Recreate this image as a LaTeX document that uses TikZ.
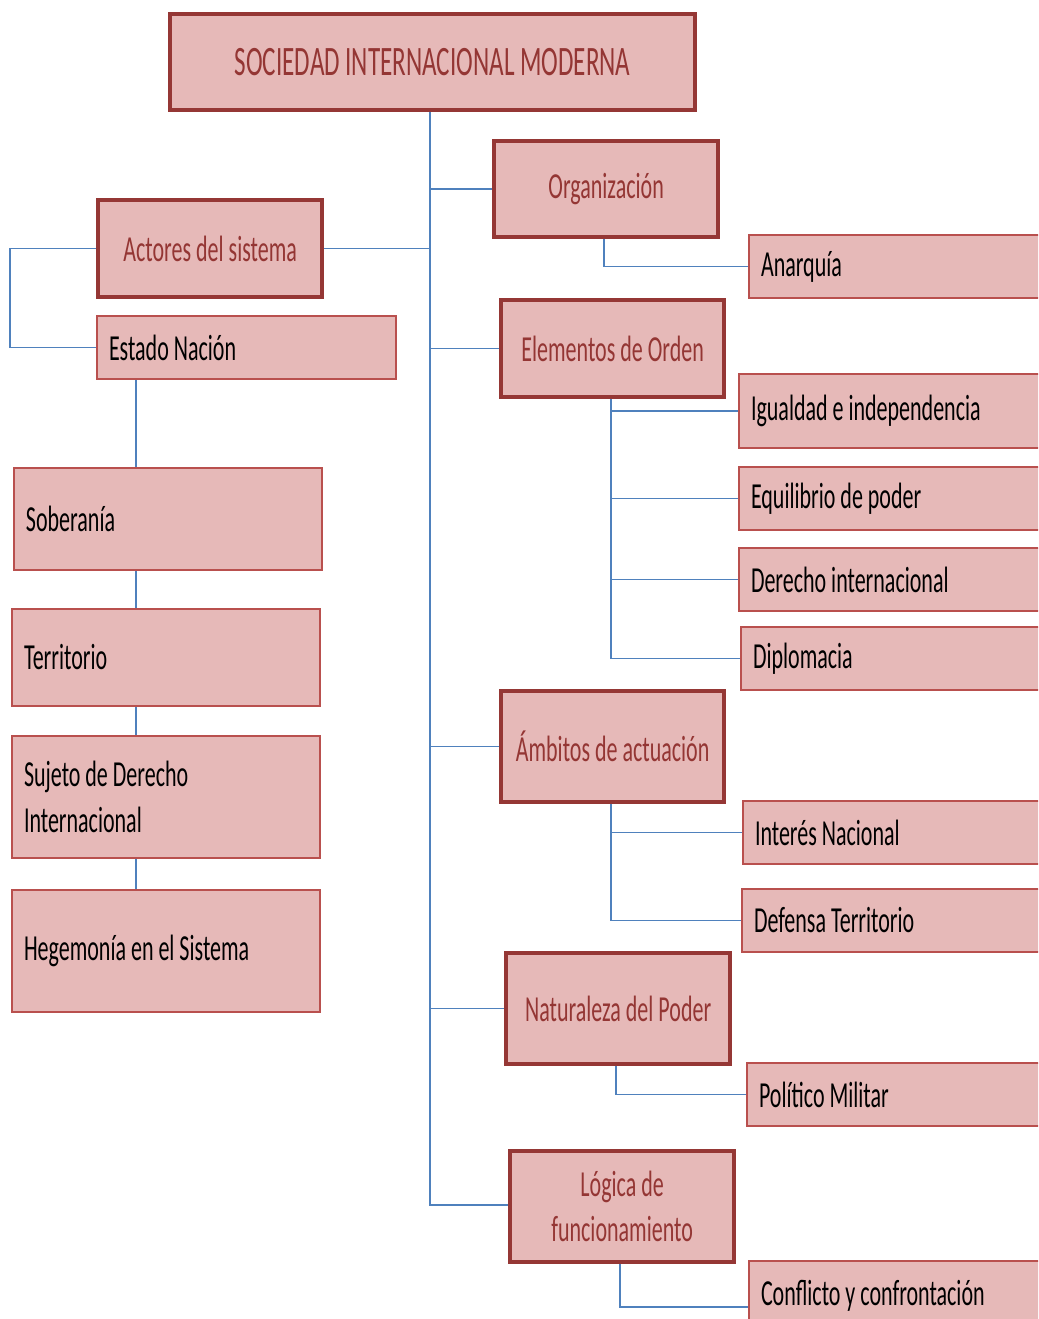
\documentclass[tikz,border=0pt]{standalone}
\usepackage{fontspec}
\setmainfont{Carlito}[FakeStretch=0.6]
\definecolor{boxfill}{HTML}{E6B9B8}
\definecolor{headline}{HTML}{953735}
\definecolor{leafline}{HTML}{B9504E}
\definecolor{headtext}{HTML}{943634}
\definecolor{wire}{HTML}{4F81BD}
\tikzset{
  head/.style={draw=headline, fill=boxfill, line width=3.2pt, text=headtext,
    font=\fontsize{27.5}{34}\selectfont, align=center, inner sep=0pt},
  leaf/.style={draw=leafline, fill=boxfill, line width=1.5pt, text=black,
    font=\fontsize{27.5}{34}\selectfont, align=flush left, inner sep=0pt},
  link/.style={draw=wire, line width=1.1pt}
}
% head box: name, x1, y1, x2, y2, text
\newcommand\headbox[6]{%
  \pgfmathsetlengthmacro\bw{(#4-#2)*0.75pt}%
  \pgfmathsetlengthmacro\bh{(#5-#3)*0.75pt}%
  \node[head, anchor=north west, minimum width=\bw, minimum height=\bh] (#1) at (#2,#3) {#6};}
% leaf box: text flush left
\newcommand\leafbox[6]{%
  \pgfmathsetlengthmacro\bw{(#4-#2)*0.75pt}%
  \pgfmathsetlengthmacro\bh{(#5-#3)*0.75pt}%
  \pgfmathsetlengthmacro\tw{(#4-#2-24)*0.75pt}%
  \node[leaf, anchor=north west, minimum width=\bw, minimum height=\bh, text width=\tw] (#1) at (#2,#3) {#6};}
\begin{document}
\begin{tikzpicture}[x=0.75pt,y=-0.75pt]
\useasboundingbox (0,0) rectangle (1038,1319);
\clip (0,0) rectangle (1038,1319);

% title
\headbox{top}{168}{12}{693}{108}{\fontsize{31.4}{40}\selectfont SOCIEDAD INTERNACIONAL MODERNA}
\coordinate (trunkend) at (430,1205);

% left column
\headbox{actores}{96}{198}{320}{295}{Actores del sistema}
\leafbox{estado}{96}{315}{395}{378}{Estado Nación}
\leafbox{soberania}{13}{467}{321}{569}{Soberanía}
\leafbox{territorio}{11}{608}{319}{705}{Territorio}
\leafbox{sujeto}{11}{735}{319}{857}{Sujeto de Derecho\\Internacional}
\leafbox{hegemonia}{11}{889}{319}{1011}{Hegemonía en el Sistema}

% right column heads
\headbox{organizacion}{492}{139}{716}{235}{Organización}
\headbox{elementos}{499}{298}{722}{395}{Elementos de Orden}
\headbox{ambitos}{499}{689}{722}{800}{Ámbitos de actuación}
\headbox{naturaleza}{504}{951}{728}{1062}{Naturaleza del Poder}
\headbox{logica}{508}{1149}{732}{1260}{Lógica de\\funcionamiento}

% right column leaves
\leafbox{anarquia}{748}{234}{1048}{297}{Anarquía}
\leafbox{igualdad}{738}{373}{1048}{447}{Igualdad e independencia}
\leafbox{equilibrio}{738}{466}{1048}{529}{Equilibrio de poder}
\leafbox{derecho}{738}{547}{1048}{610}{Derecho internacional}
\leafbox{diplomacia}{740}{626}{1048}{689}{Diplomacia}
\leafbox{interes}{742}{800}{1048}{863}{Interés Nacional}
\leafbox{defensa}{741}{888}{1048}{951}{Defensa Territorio}
\leafbox{politico}{746}{1062}{1048}{1125}{Político Militar}
\leafbox{conflicto}{748}{1260}{1048}{1330}{Conflicto y confrontación}

% trunk and its branches
\path[link] (top.south -| trunkend) -- (trunkend) -- (logica.west |- trunkend);
\path[link] (actores.east) -- (actores.east -| trunkend);
\path[link] (organizacion.west -| trunkend) -- (organizacion.west);
\path[link] (elementos.west -| trunkend) -- (elementos.west);
\path[link] (ambitos.west -| trunkend) -- (ambitos.west);
\path[link] (naturaleza.west -| trunkend) -- (naturaleza.west);

% actors bracket
\path[link] (actores.west) -- ++(-86,0) |- (estado.west);

% state chain
\path[link] (estado.south -| 136,0) -- (soberania.north -| 136,0);
\path[link] (soberania.south -| 136,0) -- (territorio.north -| 136,0);
\path[link] (territorio.south -| 136,0) -- (sujeto.north -| 136,0);
\path[link] (sujeto.south -| 136,0) -- (hegemonia.north -| 136,0);

% sub-branches
\path[link] (organizacion.south -| 604,0) |- (anarquia.west);
\path[link] (elementos.south -| 611,0) |- (diplomacia.west);
\path[link] (elementos.south -| 611,0) |- (igualdad.west);
\path[link] (elementos.south -| 611,0) |- (equilibrio.west);
\path[link] (elementos.south -| 611,0) |- (derecho.west);
\path[link] (ambitos.south -| 611,0) |- (defensa.west);
\path[link] (ambitos.south -| 611,0) |- (interes.west);
\path[link] (naturaleza.south -| 616,0) |- (politico.west);
\path[link] (logica.south -| 620,0) |- (conflicto.west |- 0,1307);
\end{tikzpicture}
\end{document}
